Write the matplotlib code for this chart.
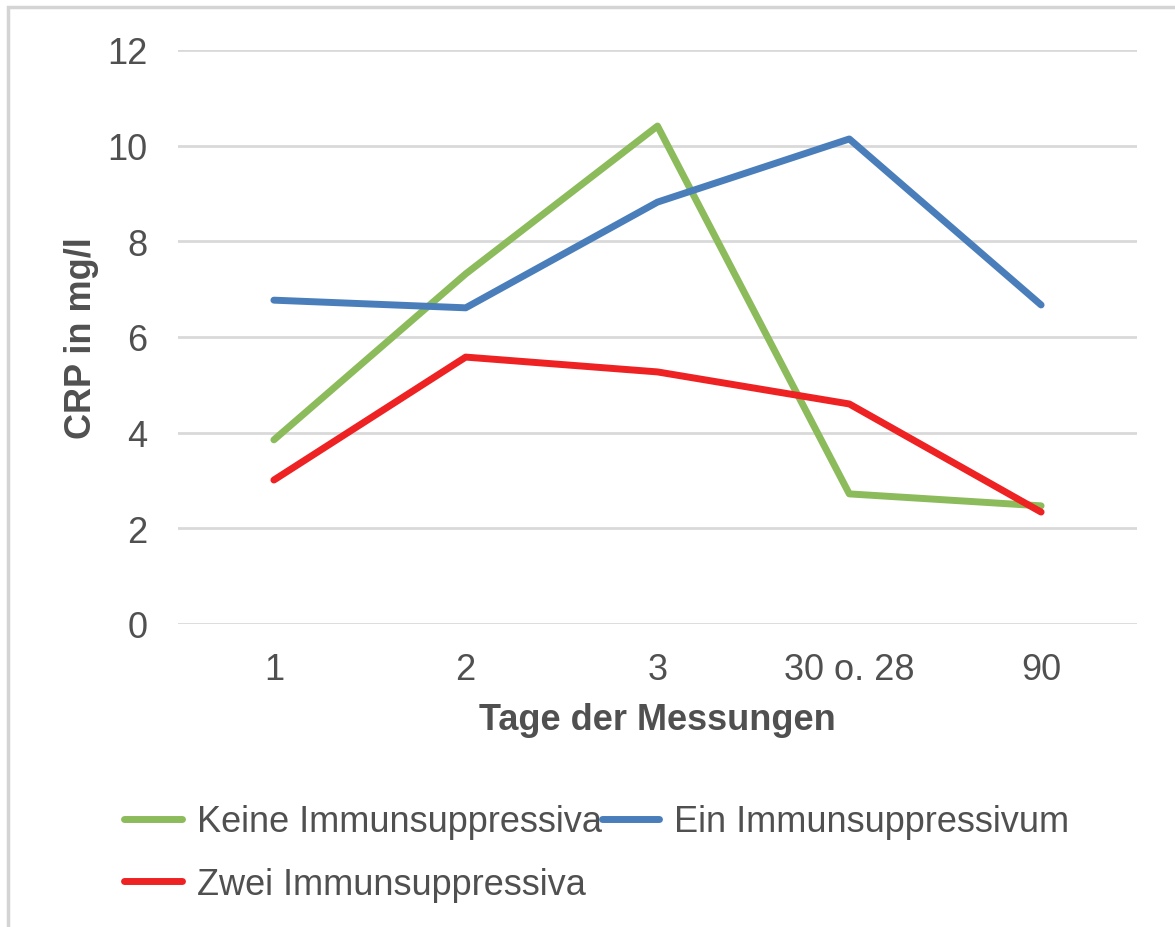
import matplotlib.pyplot as plt
from matplotlib.patches import Rectangle

plt.rcParams['font.family'] = ['Liberation Sans', 'DejaVu Sans']

days = ['1', '2', '3', '30 o. 28', '90']
keine = [3.85, 7.32, 10.41, 2.72, 2.47]
ein = [6.77, 6.61, 8.82, 10.14, 6.67]
zwei = [3.01, 5.58, 5.27, 4.60, 2.34]

txt = '#505050'

fig = plt.figure(figsize=(11.75, 9.28), dpi=100)
fig.patches.append(Rectangle((8/1175, -0.1), 1.2, 1 - 8/928 + 0.1, transform=fig.transFigure,
                             fill=False, edgecolor='#d4d4d4', linewidth=2.5))
ax = fig.add_axes([178/1175, 1 - 625/928, (1137-178)/1175, (625-51)/928])

x = range(len(days))
l1, = ax.plot(x, keine, color='#8cbb5b', lw=5, label='Keine Immunsuppressiva', solid_capstyle='round')
l2, = ax.plot(x, ein, color='#4a7ebb', lw=5, label='Ein Immunsuppressivum', solid_capstyle='round')
l3, = ax.plot(x, zwei, color='#ee2222', lw=5, label='Zwei Immunsuppressiva', solid_capstyle='round')

ax.set_xlim(-0.5, 4.5)
ax.set_ylim(0, 12)
ax.set_yticks(range(0, 13, 2))
ax.set_xticks(list(x))
ax.set_xticklabels(days)
ax.yaxis.grid(True, color='#d9d9d9', lw=2)
ax.set_axisbelow(True)
for s in ax.spines.values():
    s.set_visible(False)
ax.tick_params(length=0, labelsize=26, labelcolor=txt)
ax.tick_params(axis='x', pad=20)
ax.tick_params(axis='y', pad=22)

ax.set_xlabel('Tage der Messungen', fontsize=26, fontweight='bold', color=txt, labelpad=11)
ax.set_ylabel('CRP in mg/l', fontsize=26, fontweight='bold', color=txt, labelpad=6)

# column-major fill: keine/zwei in col 1, ein in col 2
leg = fig.legend([l1, l3, l2], [l1.get_label(), l3.get_label(), l2.get_label()],
                 loc='upper left', bbox_to_anchor=(110/1175, 1 - 791/928), ncol=2,
                 frameon=False, fontsize=26, handlelength=1.6, handletextpad=0.4,
                 columnspacing=0.0, labelspacing=0.75, borderaxespad=0)
for t in leg.get_texts():
    t.set_color(txt)

fig.savefig('out.png', dpi=100)
